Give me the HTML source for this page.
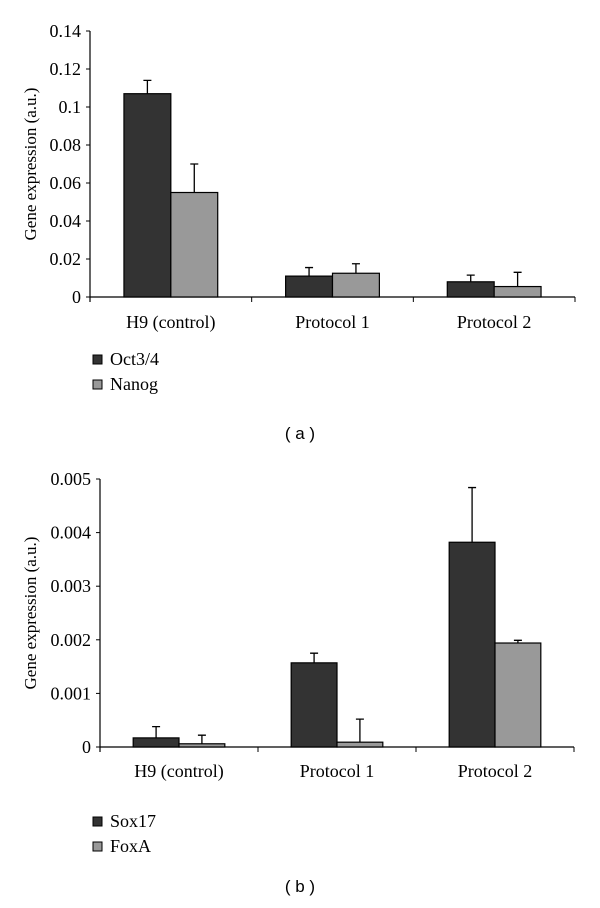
<!DOCTYPE html>
<html><head><meta charset="utf-8"><style>
body{margin:0;background:#fff;}
svg{display:block;font-family:"Liberation Serif",serif;}
</style></head><body>
<svg id="c" width="600" height="908"></svg>
<script>
const categories = ["H9 (control)", "Protocol 1", "Protocol 2"];
const octValues = [0.107, 0.011, 0.008];
const octErr = [0.007, 0.0045, 0.0035];
const nanogValues = [0.055, 0.0125, 0.0055];
const nanogErr = [0.015, 0.005, 0.0075];
const ticksA = ["0", "0.02", "0.04", "0.06", "0.08", "0.1", "0.12", "0.14"];
const sox17Values = [0.00017, 0.00157, 0.00382];
const sox17Err = [0.00021, 0.00018, 0.00102];
const foxaValues = [0.00006, 0.00009, 0.00194];
const foxaErr = [0.00016, 0.00043, 0.00005];
const ticksB = ["0", "0.001", "0.002", "0.003", "0.004", "0.005"];

const NS = "http://www.w3.org/2000/svg";
const svg = document.getElementById('c');
function mk(tag, attrs, parent, text) {
  const e = document.createElementNS(NS, tag);
  for (const k in attrs) e.setAttribute(k, attrs[k]);
  if (text !== undefined) e.textContent = text;
  (parent || svg).appendChild(e);
  return e;
}

function chart(cfg) {
  const g = mk('g', {});
  
  
  const y = v => cfg.y0 - (v / cfg.max) * (cfg.y0 - cfg.yTop);
  const groupW = (cfg.x1 - cfg.x0) / categories.length;
  const ya = mk('line', {x1: cfg.x0, y1: cfg.yTop, x2: cfg.x0, y2: cfg.y0 + 5, stroke: '#000', 'stroke-width': 1.2}, g);
  
  
  const xa = mk('line', {x1: cfg.x0, y1: cfg.y0, x2: cfg.x1, y2: cfg.y0, stroke: '#000', 'stroke-width': 1.2}, g);
  
  
  cfg.ticks.forEach(t => {
    const v = parseFloat(t), yy = y(v);
    mk('line', {x1: cfg.x0 - 4, y1: yy, x2: cfg.x0, y2: yy, stroke: '#000'}, g);
    const tx = mk('text', {x: cfg.x0 - 9, y: yy + 6, 'text-anchor': 'end', 'font-size': 18}, g, t);
    
    
  });
  const yt = mk('text', {transform: `translate(${cfg.titleX},${(cfg.y0 + cfg.yTop) / 2}) rotate(-90)`, 'text-anchor': 'middle', 'font-size': 17}, g, 'Gene expression (a.u.)');
  
  
  categories.forEach((c, i) => {
    const gx = cfg.x0 + groupW * (i + 1);
    mk('line', {x1: gx, y1: cfg.y0, x2: gx, y2: cfg.y0 + 5, stroke: '#000'}, g);
    const cx = cfg.x0 + groupW * (i + 0.5);
    const lt = mk('text', {x: cx, y: cfg.labelY, 'text-anchor': 'middle', 'font-size': 18}, g, c);
    
    
    const bw = groupW * 0.29;
    cfg.series.forEach((s, j) => {
      const bx = cx - bw + j * bw;
      const top = y(s.vals[i]);
      const r = mk('rect', {x: bx, y: top, width: bw, height: cfg.y0 - top, fill: s.color, stroke: '#000', 'stroke-width': 1.2}, g);
      
      
      const et = y(s.vals[i] + s.err[i]);
      const mx = bx + bw / 2;
      const el = mk('path', {d: `M${mx},${top}V${et}M${mx - 4},${et}H${mx + 4}`, stroke: '#000', 'stroke-width': 1.3, fill: 'none'}, g);
      
      
    });
  });
  cfg.series.forEach((s, j) => {
    const ly = cfg.legendY + j * 25;
    const lg = mk('g', {}, g);
    
    
    mk('rect', {x: 93, y: ly - 10, width: 9, height: 9, fill: s.color, stroke: '#000'}, lg);
    mk('text', {x: 110, y: ly, 'font-size': 18}, lg, s.label);
  });
  const cap = mk('text', {x: 300, y: cfg.capY, 'text-anchor': 'middle', 'font-size': 17, 'font-family': '"Liberation Sans",sans-serif'}, g, cfg.cap);
  
  
}

chart({name: 'chart-a', x0: 90, x1: 575, y0: 297, yTop: 31, max: 0.14, ticks: ticksA, titleX: 36, labelY: 328, legendY: 365, capY: 439, cap: '( a )',
  series: [{key: 'oct34', label: 'Oct3/4', vals: octValues, err: octErr, color: '#333333'},
           {key: 'nanog', label: 'Nanog', vals: nanogValues, err: nanogErr, color: '#999999'}]});
chart({name: 'chart-b', x0: 100, x1: 574, y0: 747, yTop: 479, max: 0.005, ticks: ticksB, titleX: 36, labelY: 777, legendY: 827, capY: 892, cap: '( b )',
  series: [{key: 'sox17', label: 'Sox17', vals: sox17Values, err: sox17Err, color: '#333333'},
           {key: 'foxa', label: 'FoxA', vals: foxaValues, err: foxaErr, color: '#999999'}]});
</script>
</body></html>
